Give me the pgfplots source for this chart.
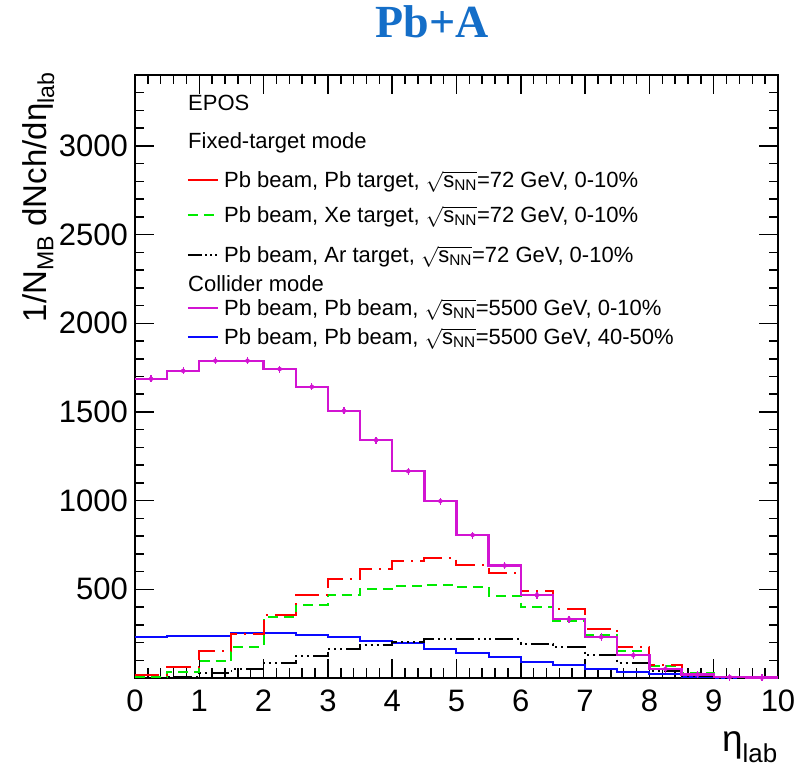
\documentclass[border=0pt]{standalone}
\usepackage{pgfplots}
\pgfplotsset{compat=1.18}
\usepackage{pgfplotstable}
\usepackage{amsmath}
\usepackage{fontspec}
\setmainfont{Liberation Sans}
\newfontfamily\titlefont{Liberation Serif}

\definecolor{rootred}{RGB}{255,0,0}
\definecolor{rootgreen}{RGB}{0,235,0}
\definecolor{rootmagenta}{RGB}{210,20,210}
\definecolor{rootblue}{RGB}{10,10,255}
\definecolor{titleblue}{RGB}{20,110,200}

\newcommand\legfont{\fontsize{22}{26}\selectfont}
\newcommand\tickfont{\fontsize{31}{36}\selectfont}
\newcommand\labfont{\fontsize{37}{42}\selectfont}
\newcommand\ylabfont{\fontsize{33}{38}\selectfont}
\newcommand\snn{$\sqrt{\text{s}_{\text{NN}}}$}

% EPOS charged-particle pseudorapidity densities, bins of 0.5 in eta_lab
% (left bin edge; the row at 10 closes the last bin)
% pbpbc: Pb+Pb 5500 GeV 0-10%, pbpbp: Pb+Pb 5500 GeV 40-50%,
% pb/xe/ar: Pb beam on fixed target at 72 GeV, 0-10%
\pgfplotstableread{
x     pbpbc  pbpbp  pb    xe    ar
0.0   1687   230    15    8     3
0.5   1732   237    60    36    6
1.0   1789   238    150   95    26
1.5   1789   252    250   175   51
2.0   1742   256    354   343   83
2.5   1642   244    467   412   126
3.0   1507   230    557   467   164
3.5   1341   209    617   504   186
4.0   1166   196    662   519   205
4.5   997    163    675   527   222
5.0   806    139    638   515   222
5.5   634    117    592   464   218
6.0   467    92     491   399   192
6.5   331    73     388   322   173
7.0   231    49     276   241   128
7.5   128    36     175   152   83
8.0   51     24     73    70    40
8.5   20     7      24    26    11
9.0   5      1      3     3     2
9.5   2      0      0     0     0
10.0  2      0      0     0     0
}\dndeta

\begin{document}
\begin{tikzpicture}
\path[use as bounding box] (-135pt,-99pt) rectangle (672pt,678pt);
\begin{axis}[
  at={(0pt,0pt)}, anchor=south west,
  scale only axis, width=643pt, height=603pt,
  xmin=0, xmax=10, ymin=0, ymax=3400,
  axis line style={line width=2pt},
  tick style={line width=1.5pt, black},
  tick align=inside,
  xtick pos=both, ytick pos=both,
  xticklabel pos=lower, yticklabel pos=left,
  major tick length=19pt, minor tick length=9.5pt,
  xtick={0,1,...,10},
  xticklabels={0,1,2,3,4,5,6,7,8,9,10},
  minor xtick={0,0.2,...,10},
  ytick={0,500,1000,1500,2000,2500,3000},
  yticklabels={,500,1000,1500,2000,2500,3000},
  minor ytick={0,100,...,3400},
  ticklabel style={font=\tickfont, inner sep=0pt},
  xticklabel shift=12pt, yticklabel shift=7pt,
  xlabel={η\textsubscript{lab}},
  xlabel style={font=\labfont, inner sep=0pt,
    at={(axis description cs:1,-0.1227)}, anchor=base east},
  ylabel={1/N\textsubscript{MB} dNch/dη\textsubscript{lab}},
  ylabel style={font=\ylabfont, inner sep=0pt, rotate=0,
    at={(axis description cs:-0.1384,1.005)}, anchor=base east},
  clip=false,
]
\addplot[rootblue, line width=2pt, const plot mark left]
  table[x=x, y=pbpbp] {\dndeta};
\addplot[black, line width=1.8pt, const plot mark left,
  dash pattern=on 18pt off 4pt on 2pt off 4pt on 2pt off 4pt on 2pt off 4pt]
  table[x=x, y=ar] {\dndeta};
\addplot[rootgreen, line width=2pt, const plot mark left,
  dash pattern=on 10pt off 6pt]
  table[x=x, y=xe] {\dndeta};
\addplot[rootred, line width=2pt, const plot mark left,
  dash pattern=on 24pt off 7pt on 2pt off 7pt]
  table[x=x, y=pb] {\dndeta};
\addplot[rootmagenta, line width=2.4pt, const plot mark left]
  table[x=x, y=pbpbc] {\dndeta};
% statistical error bars at the bin centres
\addplot[rootmagenta, only marks, mark=none,
  skip coords between index={20}{21},
  error bars/.cd, y dir=both, y fixed=20, error mark=none,
  error bar style={line width=1.3pt}]
  table[x expr=\thisrow{x}+0.25, y=pbpbc] {\dndeta};
\end{axis}

% title
\node[anchor=base, inner sep=0pt, text=titleblue,
  font={\titlefont\bfseries\fontsize{46}{50}\selectfont}] at (297pt,640pt) {Pb+A};

% legend
\begin{scope}[every node/.style={anchor=base west, inner sep=0pt, font=\legfont}]
\node at (53pt,567.5pt) {EPOS};
\node at (53pt,529.5pt) {Fixed-target mode};
\draw[rootred, line width=2pt] (53pt,498pt) -- (83pt,498pt);
\node at (89pt,490.5pt) {Pb beam, Pb target, \snn=72 GeV, 0-10\%};
\draw[rootgreen, line width=2pt, dash pattern=on 10pt off 6pt] (53pt,463pt) -- (83pt,463pt);
\node at (89pt,455.5pt) {Pb beam, Xe target, \snn=72 GeV, 0-10\%};
\draw[black, line width=1.8pt, dash pattern=on 14pt off 3pt on 2pt off 3pt on 2pt off 3pt on 2pt off 3pt] (53pt,423pt) -- (83pt,423pt);
\node at (89pt,415.5pt) {Pb beam, Ar target, \snn=72 GeV, 0-10\%};
\node at (53pt,386.5pt) {Collider mode};
\draw[rootmagenta, line width=2.4pt] (53pt,370pt) -- (83pt,370pt);
\node at (89pt,362.5pt) {Pb beam, Pb beam, \snn=5500 GeV, 0-10\%};
\draw[rootblue, line width=2pt] (53pt,341pt) -- (83pt,341pt);
\node at (89pt,333.5pt) {Pb beam, Pb beam, \snn=5500 GeV, 40-50\%};
\end{scope}
\end{tikzpicture}
\end{document}
